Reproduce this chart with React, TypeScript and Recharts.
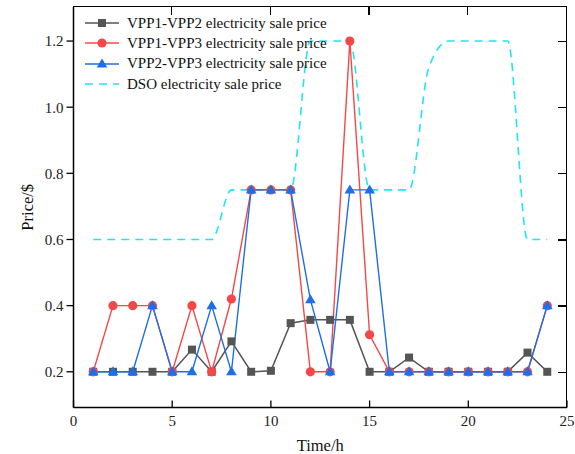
import React from "react";
import { LineChart, Line, XAxis, YAxis, Legend } from "recharts";

const hours = [1, 2, 3, 4, 5, 6, 7, 8, 9, 10, 11, 12, 13, 14, 15, 16, 17, 18, 19, 20, 21, 22, 23, 24];
const vpp12 = [0.2, 0.2, 0.2, 0.2, 0.2, 0.267, 0.2, 0.292, 0.2, 0.203, 0.347, 0.357, 0.357, 0.357, 0.2, 0.2, 0.243, 0.2, 0.2, 0.2, 0.2, 0.2, 0.258, 0.2];
const vpp13 = [0.2, 0.4, 0.4, 0.4, 0.2, 0.4, 0.2, 0.42, 0.75, 0.75, 0.75, 0.2, 0.2, 1.2, 0.312, 0.2, 0.2, 0.2, 0.2, 0.2, 0.2, 0.2, 0.2, 0.4];
const vpp23 = [0.2, 0.2, 0.2, 0.4, 0.2, 0.2, 0.4, 0.2, 0.75, 0.75, 0.75, 0.418, 0.2, 0.75, 0.75, 0.2, 0.2, 0.2, 0.2, 0.2, 0.2, 0.2, 0.2, 0.4];
const dso = [0.6, 0.6, 0.6, 0.6, 0.6, 0.6, 0.6, 0.75, 0.75, 0.75, 0.75, 1.2, 1.2, 1.2, 0.75, 0.75, 0.75, 1.12, 1.2, 1.2, 1.2, 1.2, 0.6, 0.6];

const xTicks = [0, 5, 10, 15, 20, 25];
const yTicks = [0.2, 0.4, 0.6, 0.8, 1.0, 1.2];
const X_DOMAIN: [number, number] = [0, 25];
const Y_DOMAIN: [number, number] = [0.092, 1.303];

const NAME_12 = "VPP1-VPP2 electricity sale price";
const NAME_13 = "VPP1-VPP3 electricity sale price";
const NAME_23 = "VPP2-VPP3 electricity sale price";
const NAME_DSO = "DSO electricity sale price";
const legendOrder = [NAME_12, NAME_13, NAME_23, NAME_DSO];

const GRAY = "#555555";
const RED = "#f44848";
const BLUE = "#1e6ee6";
const CYAN = "#1ee6f2";

const W = 575;
const H = 454;
const M = { top: 7, right: 8, bottom: 0, left: 0 };
const X_AXIS_H = 46.5;
const Y_AXIS_W = 73.5;
const PLOT_X = M.left + Y_AXIS_W;
const PLOT_Y = M.top;
const PLOT_W = W - M.left - M.right - Y_AXIS_W;
const PLOT_H = H - M.top - M.bottom - X_AXIS_H;

const data = hours.map((t, i) => ({
  t,
  v12: vpp12[i],
  v13: vpp13[i],
  v23: vpp23[i],
  dso: dso[i],
}));

const FONT = '"Liberation Serif", "Times New Roman", serif';

const marker = (kind: string, cx: number, cy: number, color: string, key?: string) => {
  if (kind === "square")
    return <rect key={key} x={cx - 4} y={cy - 4} width={8} height={8} fill={color} />;
  if (kind === "circle") return <circle key={key} cx={cx} cy={cy} r={4.6} fill={color} />;
  if (kind === "triangle")
    return (
      <polygon
        key={key}
        points={`${cx},${cy - 5.5} ${cx - 5.3},${cy + 3.5} ${cx + 5.3},${cy + 3.5}`}
        fill={color}
      />
    );
  return null;
};

const dotFor = (kind: string, color: string) => (p: any) =>
  p.cx == null ? <g key={`${kind}-${p.index}`} /> : marker(kind, p.cx, p.cy, color, `${kind}-${p.index}`);

const markerByName: Record<string, string> = {
  [NAME_12]: "square",
  [NAME_13]: "circle",
  [NAME_23]: "triangle",
  [NAME_DSO]: "none",
};

const renderLegend = (props: any) => {
  const items = [...(props.payload || [])].sort(
    (a: any, b: any) => legendOrder.indexOf(a.value) - legendOrder.indexOf(b.value)
  );
  return (
    <div style={{ fontFamily: FONT, fontSize: 15, color: "#111" }}>
      {items.map((it: any) => {
        const kind = markerByName[it.value];
        return (
          <div key={it.value} style={{ display: "flex", alignItems: "center", height: 20.3 }}>
            <svg width={34} height={12} style={{ display: "block" }}>
              <line
                x1={0}
                y1={6}
                x2={34}
                y2={6}
                stroke={it.color}
                strokeWidth={1.6}
                strokeDasharray={kind === "none" ? "8 6" : undefined}
              />
              {marker(kind, 17, 6, it.color)}
            </svg>
            <span style={{ marginLeft: 8, whiteSpace: "nowrap" }}>{it.value}</span>
          </div>
        );
      })}
    </div>
  );
};

// box round the plot (top and right edges), plus inward mirror ticks
const Frame = () => {
  const px = (v: number) => ((v - X_DOMAIN[0]) / (X_DOMAIN[1] - X_DOMAIN[0])) * PLOT_W;
  const py = (v: number) => (1 - (v - Y_DOMAIN[0]) / (Y_DOMAIN[1] - Y_DOMAIN[0])) * PLOT_H;
  return (
    <div
      style={{
        position: "absolute",
        left: PLOT_X - 0.75,
        top: PLOT_Y - 0.75,
        width: PLOT_W,
        height: PLOT_H,
        borderTop: "1.5px solid #000",
        borderRight: "1.5px solid #000",
        zIndex: 10,
        pointerEvents: "none",
      }}
    >
      {xTicks.slice(1, -1).map((x) => (
        <div
          key={`tx${x}`}
          style={{ position: "absolute", left: px(x) - 0.5, top: 0, width: 1.3, height: 8, background: "#000" }}
        />
      ))}
      {yTicks.map((y) => (
        <div
          key={`ty${y}`}
          style={{ position: "absolute", right: 0, top: py(y) - 0.5, width: 8, height: 1.3, background: "#000" }}
        />
      ))}
    </div>
  );
};

const tickStyle = { fontSize: 15, fill: "#222", fontFamily: FONT };
const axisLine = { stroke: "#000", strokeWidth: 1.5 };
const tickLine = { stroke: "#000", strokeWidth: 1.3 };

export default function App() {
  return (
    <div
      style={{
        position: "absolute",
        left: 0,
        top: 0,
        width: W,
        height: H,
        background: "#fff",
        fontFamily: FONT,
      }}
    >
      <LineChart width={W} height={H} data={data} margin={M}>
        <XAxis
          dataKey="t"
          type="number"
          domain={X_DOMAIN}
          ticks={xTicks}
          height={X_AXIS_H}
          tickSize={-7}
          tickMargin={15}
          tick={tickStyle}
          axisLine={axisLine}
          tickLine={tickLine}
          label={{ value: "Time/h", position: "insideBottom", offset: 3, style: { fontSize: 16.5, fill: "#111", fontFamily: FONT } }}
        />
        <YAxis
          type="number"
          domain={Y_DOMAIN}
          allowDataOverflow
          ticks={yTicks}
          width={Y_AXIS_W}
          tickSize={7}
          tickMargin={3}
          tick={tickStyle}
          tickFormatter={(v: number) => v.toFixed(1)}
          axisLine={axisLine}
          tickLine={tickLine}
          label={{ value: "Price/$", angle: -90, position: "insideLeft", offset: 27, style: { textAnchor: "middle", fontSize: 16.5, fill: "#111", fontFamily: FONT } }}
        />
        <Legend
          layout="vertical"
          align="center"
          verticalAlign="middle"
          wrapperStyle={{ left: 85, top: 13, width: "auto" }}
          content={renderLegend}
        />
        <Line
          name={NAME_DSO}
          dataKey="dso"
          type="monotone"
          stroke={CYAN}
          strokeWidth={1.6}
          strokeDasharray="8 6"
          dot={false}
          activeDot={false}
          isAnimationActive={false}
        />
        <Line
          name={NAME_12}
          dataKey="v12"
          type="linear"
          stroke={GRAY}
          strokeWidth={1.5}
          dot={dotFor("square", GRAY)}
          activeDot={false}
          isAnimationActive={false}
        />
        <Line
          name={NAME_13}
          dataKey="v13"
          type="linear"
          stroke={RED}
          strokeWidth={1.4}
          dot={dotFor("circle", RED)}
          activeDot={false}
          isAnimationActive={false}
        />
        <Line
          name={NAME_23}
          dataKey="v23"
          type="linear"
          stroke={BLUE}
          strokeWidth={1.4}
          dot={dotFor("triangle", BLUE)}
          activeDot={false}
          isAnimationActive={false}
        />
      </LineChart>
      <Frame />
    </div>
  );
}
